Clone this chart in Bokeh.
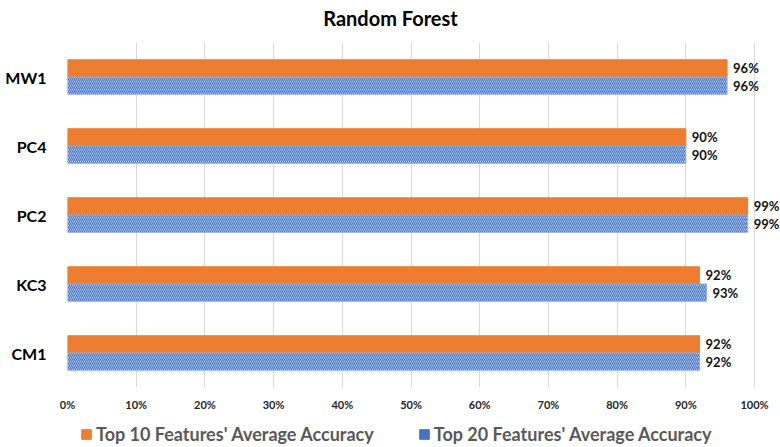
from bokeh.plotting import figure
from bokeh.layouts import column
from bokeh.models import (ColumnDataSource, FactorRange, Range1d, NumeralTickFormatter,
                          SingleIntervalTicker, Legend, LegendItem, Label)
from bokeh.core.properties import value
from bokeh.transform import dodge
from bokeh.embed import file_html
from bokeh.resources import INLINE

# Random Forest accuracy per dataset (fractions)
datasets = ["CM1", "KC3", "PC2", "PC4", "MW1"]
top10_acc = [0.92, 0.92, 0.99, 0.90, 0.96]
top20_acc = [0.92, 0.93, 0.99, 0.90, 0.96]
series_names = ["Top 10 Features' Average Accuracy", "Top 20 Features' Average Accuracy"]
chart_title = "Random Forest"

ORANGE = "#ED7D31"
BLUE = "#4472C4"
FONT = "Lato"
W = 780
LEFT = 67          # room for the category labels
FRAME_W = W - LEFT


def strip(height):
    """A bare figure (same frame as the chart) used to hold the title or the legend."""
    f = figure(frame_width=FRAME_W, height=height, output_backend="svg", toolbar_location=None,
               x_range=Range1d(0, 1), y_range=Range1d(0, 1),
               min_border=0, min_border_left=LEFT, outline_line_color=None)
    f.axis.visible = False
    f.grid.visible = False
    return f


# title strip, centred on the whole canvas
head = strip(42)
head.add_layout(Label(x=W / 2 - LEFT, y=25, x_units="screen", y_units="screen", text=chart_title,
                      text_align="center", text_baseline="middle", text_font=FONT,
                      text_font_size="20px", text_font_style="bold", text_color="#000000"))

src = ColumnDataSource(dict(
    ds=datasets,
    t10=top10_acc,
    t20=top20_acc,
    t10_lbl=[f"{v:.0%}" for v in top10_acc],
    t20_lbl=[f"{v:.0%}" for v in top20_acc],
))

# the axis runs 0..100%; a little headroom on the right keeps the value labels visible
p = figure(frame_width=FRAME_W, frame_height=345, output_backend="svg", toolbar_location=None,
           y_range=FactorRange(factors=datasets), x_range=Range1d(0, 1.0378),
           min_border_left=LEFT, min_border_right=0, min_border_top=0, min_border_bottom=25)

p.hbar(y=dodge("ds", 0.125, range=p.y_range), right="t10", left=0, height=0.25,
       source=src, fill_color=ORANGE, line_color=ORANGE)
p.hbar(y=dodge("ds", -0.125, range=p.y_range), right="t20", left=0, height=0.25,
       source=src, fill_color="white", line_color="#8FAADC", line_width=1,
       hatch_pattern="\\", hatch_color=BLUE, hatch_scale=4, hatch_weight=1.4)

lbl_kw = dict(source=src, x_offset=6, text_align="left", text_baseline="middle",
              text_font=value(FONT), text_font_size="13px", text_font_style="bold",
              text_color="#111111")
p.text(x="t10", y=dodge("ds", 0.125, range=p.y_range), text="t10_lbl", **lbl_kw)
p.text(x="t20", y=dodge("ds", -0.125, range=p.y_range), text="t20_lbl", **lbl_kw)

p.xaxis.ticker = SingleIntervalTicker(interval=0.1, num_minor_ticks=0)
p.xaxis.formatter = NumeralTickFormatter(format="0%")
p.xaxis.axis_line_color = None
p.xaxis.major_tick_line_color = None
p.xaxis.minor_tick_line_color = None
p.xaxis.major_label_text_font = FONT
p.xaxis.major_label_text_font_size = "11px"
p.xaxis.major_label_text_font_style = "bold"
p.xaxis.major_label_text_color = "#262626"
p.xaxis.major_label_standoff = 4

p.yaxis.axis_line_color = None
p.yaxis.major_tick_line_color = None
p.yaxis.major_label_text_font = FONT
p.yaxis.major_label_text_font_size = "16px"
p.yaxis.major_label_text_font_style = "bold"
p.yaxis.major_label_text_color = "#000000"
p.yaxis.major_label_standoff = 15

p.xgrid.grid_line_color = "#D9D9D9"
p.ygrid.grid_line_color = None
p.outline_line_color = None
p.y_range.range_padding = 0
p.y_range.factor_padding = 0

# legend strip underneath the chart; its swatch renderers are zero-size bars
lg = strip(35)
leg10 = lg.hbar(y="t10", left=0, right=0, height=0, source=src,
                fill_color=ORANGE, line_color=ORANGE)
leg20 = lg.hbar(y="t20", left=0, right=0, height=0, source=src,
                fill_color=BLUE, line_color=BLUE)

legend = Legend(items=[LegendItem(label=series_names[0], renderers=[leg10]),
                       LegendItem(label=series_names[1], renderers=[leg20])],
                orientation="horizontal", location=(80 - LEFT, 3),
                label_text_font=FONT, label_text_font_size="18px", label_text_font_style="bold",
                label_text_color="#595959", glyph_width=12, glyph_height=12,
                label_standoff=4, spacing=44, padding=0, margin=0,
                border_line_color=None, background_fill_color=None)
lg.add_layout(legend, "center")

layout = column(head, p, lg, spacing=0)
open("out.html", "w").write(file_html(layout, INLINE))
